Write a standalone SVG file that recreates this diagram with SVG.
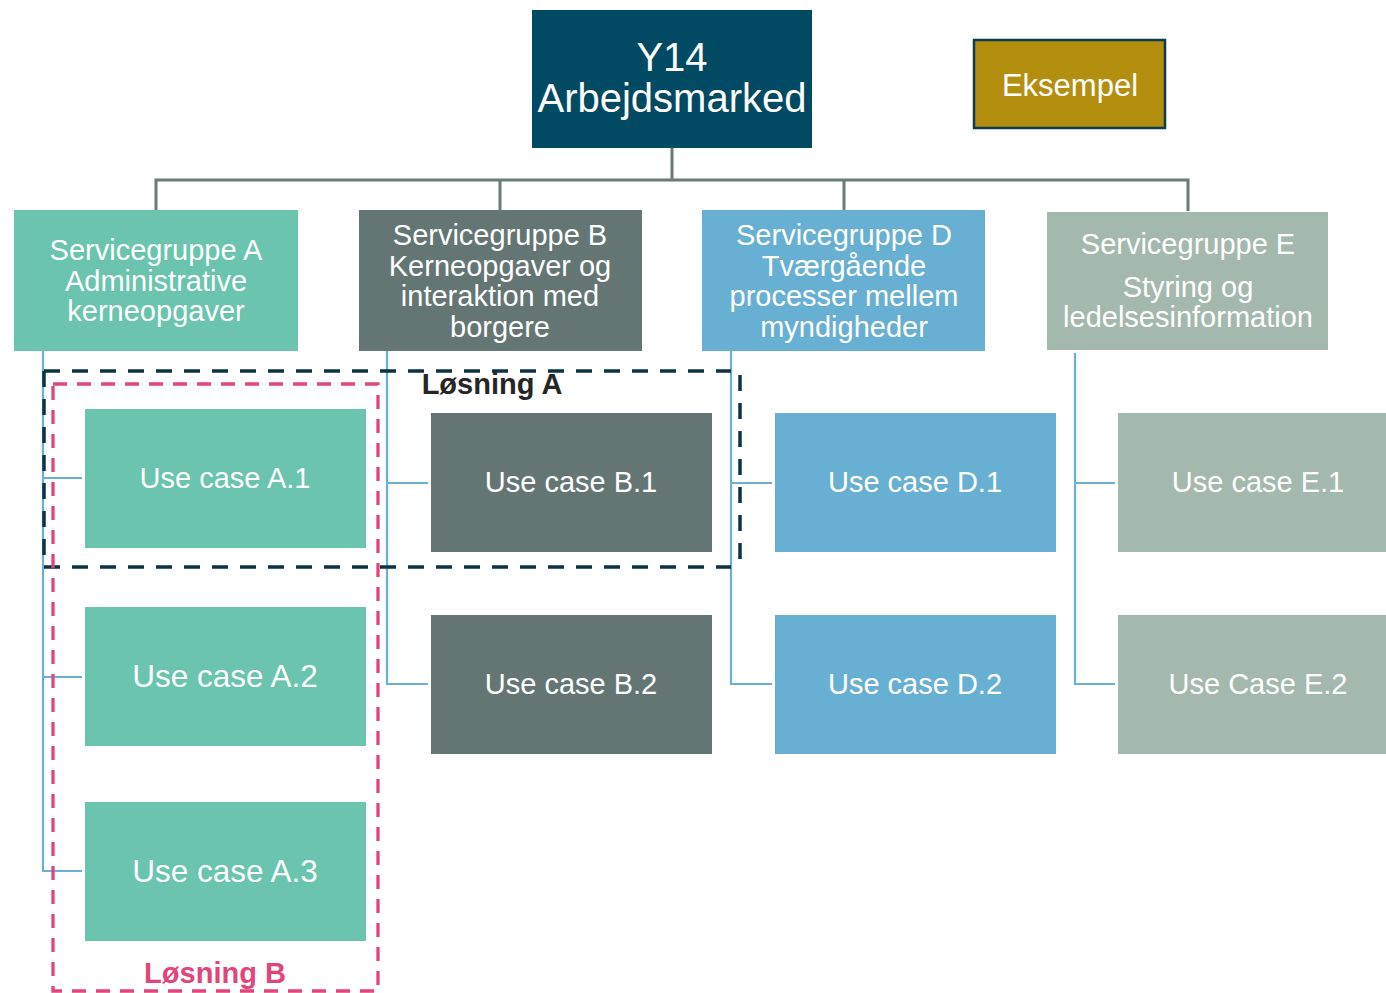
<svg xmlns="http://www.w3.org/2000/svg" width="1386" height="993" viewBox="0 0 1386 993">
<style>
text{font-family:"Liberation Sans",Arial,sans-serif;fill:#fff;text-anchor:middle}
.sg{font-size:29px}
.uc{font-size:29px}
.ucl{font-size:31.5px}
.tree{fill:none;stroke:#6B7B78;stroke-width:3}
.leaf{fill:none;stroke:#6AB0D6;stroke-width:2.2}
.A{fill:#6AC4AE}.B{fill:#647673}.D{fill:#68B0D3}.E{fill:#A3B9AD}
.lbl{font-weight:bold;font-size:29px}
</style>
<rect width="1386" height="993" fill="#fff"/>
<g id="connectors">
<path class="tree" d="M672,148V180M156,210V180H1188V211M500,180V210M844,180V210"/>
<path class="leaf" d="M43,351V871H82M43,478H82M43,677H82"/>
<path class="leaf" d="M387,351V684H428M387,483H428"/>
<path class="leaf" d="M731,351V684H772M731,483H772"/>
<path class="leaf" d="M1075,353V684H1115M1075,483H1115"/>
</g>
<g id="root"><rect x="532" y="10" width="280" height="138" fill="#004A63"/>
<text x="672" y="71" font-size="40">Y14</text><text x="672" y="112" font-size="40">Arbejdsmarked</text></g>
<g id="eksempel"><rect x="974" y="40" width="191" height="88" fill="#B48F0F" stroke="#0B3B4F" stroke-width="2.5"/>
<text x="1070" y="96" font-size="31">Eksempel</text></g>
<g id="sgA"><rect class="A" x="14" y="210" width="284" height="141"/>
<text class="sg" x="156" y="260">Servicegruppe A</text><text class="sg" x="156" y="291">Administrative</text><text class="sg" x="156" y="321">kerneopgaver</text></g>
<g id="sgB"><rect class="B" x="359" y="210" width="283" height="141"/>
<text class="sg" x="500" y="245">Servicegruppe B</text><text class="sg" x="500" y="276">Kerneopgaver og</text><text class="sg" x="500" y="306">interaktion med</text><text class="sg" x="500" y="337">borgere</text></g>
<g id="sgD"><rect class="D" x="702" y="210" width="283" height="141"/>
<text class="sg" x="844" y="245">Servicegruppe D</text><text class="sg" x="844" y="276">Tværgående</text><text class="sg" x="844" y="306">processer mellem</text><text class="sg" x="844" y="337">myndigheder</text></g>
<g id="sgE"><rect class="E" x="1047" y="212" width="281" height="138"/>
<text class="sg" x="1188" y="254">Servicegruppe E</text><text class="sg" x="1188" y="297">Styring og</text><text class="sg" x="1188" y="327">ledelsesinformation</text></g>
<g id="ucA1"><rect class="A" x="85" y="409" width="281" height="139"/><text class="uc" x="225" y="488">Use case A.1</text></g>
<g id="ucA2"><rect class="A" x="85" y="607" width="281" height="139"/><text class="ucl" x="225" y="687">Use case A.2</text></g>
<g id="ucA3"><rect class="A" x="85" y="802" width="281" height="139"/><text class="ucl" x="225" y="882">Use case A.3</text></g>
<g id="ucB1"><rect class="B" x="431" y="413" width="281" height="139"/><text class="uc" x="571" y="492">Use case B.1</text></g>
<g id="ucB2"><rect class="B" x="431" y="615" width="281" height="139"/><text class="uc" x="571" y="694">Use case B.2</text></g>
<g id="ucD1"><rect class="D" x="775" y="413" width="281" height="139"/><text class="uc" x="915" y="492">Use case D.1</text></g>
<g id="ucD2"><rect class="D" x="775" y="615" width="281" height="139"/><text class="uc" x="915" y="694">Use case D.2</text></g>
<g id="ucE1"><rect class="E" x="1118" y="413" width="268" height="139"/><text class="uc" x="1258" y="492">Use case E.1</text></g>
<g id="ucE2"><rect class="E" x="1118" y="615" width="268" height="139"/><text class="uc" x="1258" y="694">Use Case E.2</text></g>
<g id="losningA">
<path d="M44,371H731M44,567H731M44,371V567" fill="none" stroke="#0B3345" stroke-width="3.5" stroke-dasharray="16,12"/>
<path d="M740,375V565" fill="none" stroke="#0B3345" stroke-width="3.5" stroke-dasharray="16,12"/>
<text class="lbl" x="492" y="394" style="fill:#262626">Løsning A</text>
</g>
<g id="losningB">
<rect x="53" y="384" width="325" height="607" fill="none" stroke="#E0467A" stroke-width="3.3" stroke-dasharray="14,10"/>
<text class="lbl" x="215" y="983" style="fill:#E0467A">Løsning B</text>
</g>
</svg>
